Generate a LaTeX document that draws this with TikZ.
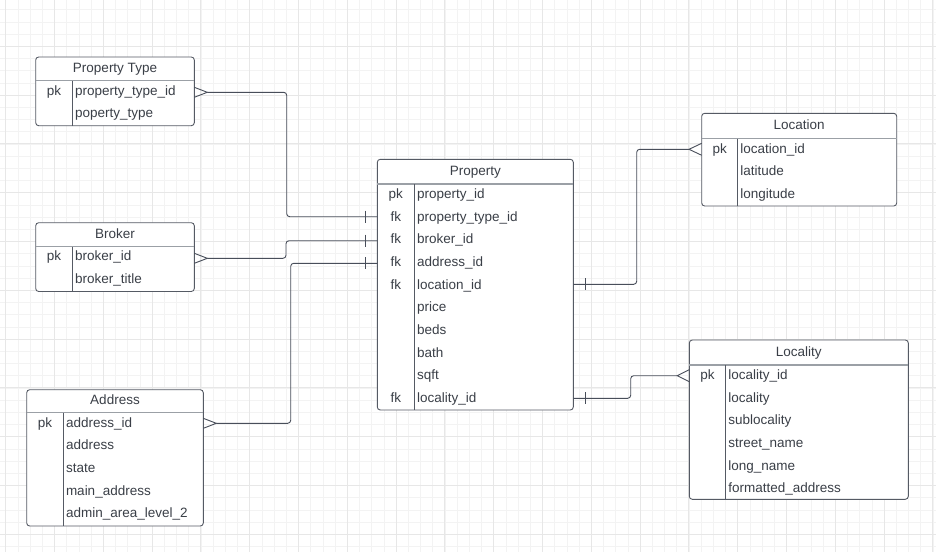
\documentclass[tikz,border=0pt]{standalone}
\usepackage{fontspec}
\setmainfont{Liberation Sans}
\usetikzlibrary{calc,fit}
\definecolor{txtc}{RGB}{58,63,71}
\definecolor{boxc}{RGB}{85,90,100}
\definecolor{hdrc}{RGB}{155,160,166}
\definecolor{connc}{RGB}{72,78,90}
\definecolor{gridmin}{RGB}{243,243,243}
\definecolor{gridmaj}{RGB}{231,231,231}
\newcommand\tabfont{\fontsize{13.5}{16}\selectfont}
\newcommand{\ertbl}[8]{%
  \node[tblbox, fit={(#2,#3) (#4,#5)}] (#1) {};
  \draw[hdrln] (#2,#6) -- (#4,#6);
  \draw[sepln] (#7,#6) -- (#7,#5);
  \node[ttl] (#1-title) at ({(#2+#4)/2},{(#3+#6)/2+3.5}) {#8};
}
\newcommand\crowR[1]{\draw[conn] ($(#1)+(0,-5)$) -- ($(#1)+(13,0)$) -- ($(#1)+(0,5)$);}
\newcommand\crowL[2]{\draw[conn] ($(#1)+(0,-6)$) -- ($(#1)+(-#2,0)$) -- ($(#1)+(0,6)$);}
\newcommand\barL[1]{\draw[conn] ($(#1)+(-11.6,-6)$) -- ($(#1)+(-11.6,6)$);}
\newcommand\barR[1]{\draw[conn] ($(#1)+(12,-6)$) -- ($(#1)+(12,6)$);}
\begin{document}
\begin{tikzpicture}[x=1pt,y=-1pt,
  tblbox/.style={draw=boxc, line width=0.9pt, rounded corners=3pt, fill=white, inner sep=0pt},
  hdrln/.style={draw=hdrc, line width=1.1pt},
  sepln/.style={draw=boxc, line width=0.9pt},
  ttl/.style={anchor=base, inner sep=0pt, text=txtc, font=\tabfont},
  keyc/.style={anchor=base, inner sep=0pt, text=txtc, font=\tabfont},
  fld/.style={anchor=base west, inner sep=0pt, text=txtc, font=\tabfont},
  conn/.style={draw=connc, line width=0.9pt},
  gmin/.style={draw=gridmin, line width=0.8pt},
  gmaj/.style={draw=gridmaj, line width=0.9pt}]
\useasboundingbox (0,0) rectangle (936,552);
\fill[white] (0,0) rectangle (936,552);
% grid
\foreach \i in {0,...,76} {\pgfmathsetmacro\gx{5.7+12.2*\i}\draw[gmin] (\gx,0) -- (\gx,552);}
\foreach \j in {0,...,44} {\pgfmathsetmacro\gy{9.7+12.2*\j}\draw[gmin] (0,\gy) -- (936,\gy);}
\foreach \i in {0,...,19} {\pgfmathsetmacro\gx{5.7+48.8*\i}\draw[gmaj] (\gx,0) -- (\gx,552);}
\foreach \j in {0,...,10} {\pgfmathsetmacro\gy{46.3+48.8*\j}\draw[gmaj] (0,\gy) -- (936,\gy);}

% tables
\ertbl{pt}{35.7}{57}{194.3}{125.7}{80.7}{72.3}{Property Type}
\node[keyc] (pt-k1) at (54,95) {pk};
\node[fld] (pt-f1) at (74.8,95) {property\_type\_id};
\node[fld] (pt-f2) at (74.8,117.7) {poperty\_type};

\ertbl{br}{35.7}{222.7}{194.3}{291.5}{246.5}{72.3}{Broker}
\node[keyc] (br-k1) at (54,260.8) {pk};
\node[fld] (br-f1) at (74.8,260.8) {broker\_id};
\node[fld] (br-f2) at (74.8,283.5) {broker\_title};

\ertbl{ad}{26.7}{389.7}{203.3}{526}{412.7}{63.3}{Address}
\node[keyc] (ad-k1) at (45,427) {pk};
\node[fld] (ad-f1) at (65.8,427) {address\_id};
\node[fld] (ad-f2) at (65.8,449.7) {address};
\node[fld] (ad-f3) at (65.8,472.4) {state};
\node[fld] (ad-f4) at (65.8,495.1) {main\_address};
\node[fld] (ad-f5) at (65.8,517.8) {admin\_area\_level\_2};

\ertbl{pr}{377.3}{159.3}{573.3}{410}{184}{414.3}{Property}
\node[keyc] (pr-k1) at (395.8,198.3) {pk};
\node[fld] (pr-f1) at (416.8,198.3) {property\_id};
\node[keyc] (pr-k2) at (395.8,221) {fk};
\node[fld] (pr-f2) at (416.8,221) {property\_type\_id};
\node[keyc] (pr-k3) at (395.8,243.7) {fk};
\node[fld] (pr-f3) at (416.8,243.7) {broker\_id};
\node[keyc] (pr-k4) at (395.8,266.4) {fk};
\node[fld] (pr-f4) at (416.8,266.4) {address\_id};
\node[keyc] (pr-k5) at (395.8,289.1) {fk};
\node[fld] (pr-f5) at (416.8,289.1) {location\_id};
\node[fld] (pr-f6) at (416.8,311.8) {price};
\node[fld] (pr-f7) at (416.8,334.5) {beds};
\node[fld] (pr-f8) at (416.8,357.2) {bath};
\node[fld] (pr-f9) at (416.8,379.9) {sqft};
\node[keyc] (pr-k10) at (395.8,402.6) {fk};
\node[fld] (pr-f10) at (416.8,402.6) {locality\_id};

\ertbl{lo}{701.7}{113.3}{896.7}{206}{138.7}{737.7}{Location}
\node[keyc] (lo-k1) at (719.7,153) {pk};
\node[fld] (lo-f1) at (740.2,153) {location\_id};
\node[fld] (lo-f2) at (740.2,175.7) {latitude};
\node[fld] (lo-f3) at (740.2,198.4) {longitude};

\ertbl{lc}{689.3}{340}{908.3}{499.3}{365}{725.7}{Locality}
\node[keyc] (lc-k1) at (707.5,379.3) {pk};
\node[fld] (lc-f1) at (728.2,379.3) {locality\_id};
\node[fld] (lc-f2) at (728.2,402) {locality};
\node[fld] (lc-f3) at (728.2,424.7) {sublocality};
\node[fld] (lc-f4) at (728.2,447.4) {street\_name};
\node[fld] (lc-f5) at (728.2,470.1) {long\_name};
\node[fld] (lc-f6) at (728.2,492.8) {formatted\_address};

% connector end points
\coordinate (ptA) at (194.3,92.3);
\coordinate (brA) at (194.3,258.3);
\coordinate (adA) at (203.3,423.3);
\coordinate (loA) at (701.7,149.3);
\coordinate (lcA) at (689.3,375.7);
\coordinate (prL1) at (377.3,216.7);
\coordinate (prL2) at (377.3,240.7);
\coordinate (prL3) at (377.3,263.3);
\coordinate (prR4) at (573.3,284.3);
\coordinate (prR5) at (573.3,398.3);

% connectors
\draw[conn, rounded corners=3pt] ($(ptA)+(13,0)$) -| ([xshift=-90.6pt]prL1) -- (prL1);
\draw[conn, rounded corners=3pt] ($(brA)+(13,0)$) -| ([xshift=-91.3pt]prL2) -- (prL2);
\draw[conn, rounded corners=3pt] ($(adA)+(13,0)$) -| ([xshift=-86.6pt]prL3) -- (prL3);
\draw[conn, rounded corners=3pt] (prR4) -| ([xshift=-65pt]loA) -- ($(loA)+(-12.7,0)$);
\draw[conn, rounded corners=3pt] (prR5) -| ([xshift=-58.6pt]lcA) -- ($(lcA)+(-12,0)$);

% markers
\crowR{ptA}
\crowR{brA}
\crowR{adA}
\crowL{loA}{12.7}
\crowL{lcA}{12}
\barL{prL1}
\barL{prL2}
\barL{prL3}
\barR{prR4}
\barR{prR5}
\end{tikzpicture}
\end{document}
